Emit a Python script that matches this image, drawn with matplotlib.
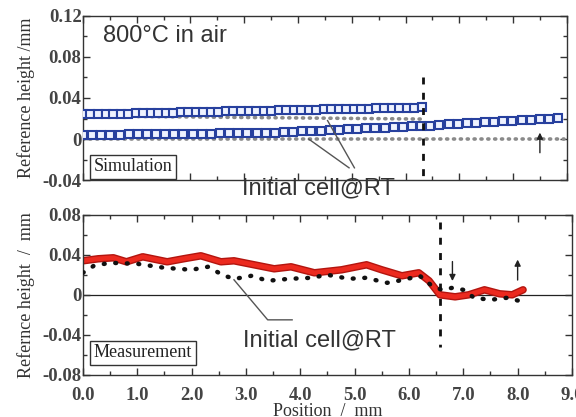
import numpy as np
import matplotlib
matplotlib.use("Agg")
import matplotlib.pyplot as plt
import matplotlib.patheffects as pe
from matplotlib.ticker import MultipleLocator, FuncFormatter

# ---- simulation (top panel) ----
sim_hot_x = [0.00, 0.14, 0.28, 0.42, 0.56, 0.70, 0.84, 0.98, 1.12, 1.26, 1.40, 1.54,
             1.68, 1.82, 1.96, 2.10, 2.24, 2.38, 2.52, 2.66, 2.80, 2.94, 3.08, 3.22,
             3.36, 3.50, 3.64, 3.78, 3.92, 4.06, 4.20, 4.34, 4.48, 4.62, 4.76, 4.90,
             5.04, 5.18, 5.32, 5.46, 5.60, 5.74, 5.88, 6.02, 6.16, 6.30]
sim_hot_y = [0.0240, 0.0242, 0.0243, 0.0245, 0.0246, 0.0248, 0.0249, 0.0251, 0.0252,
             0.0254, 0.0255, 0.0257, 0.0258, 0.0260, 0.0261, 0.0263, 0.0264, 0.0266,
             0.0267, 0.0269, 0.0270, 0.0272, 0.0273, 0.0275, 0.0276, 0.0278, 0.0279,
             0.0281, 0.0282, 0.0284, 0.0285, 0.0287, 0.0288, 0.0290, 0.0291, 0.0293,
             0.0294, 0.0296, 0.0297, 0.0299, 0.0300, 0.0302, 0.0303, 0.0305, 0.0306,
             0.0308]
sim_hot2_x = [0.00, 0.17, 0.34, 0.51, 0.68, 0.85, 1.02, 1.19, 1.36, 1.53, 1.70, 1.87,
              2.04, 2.21, 2.38, 2.55, 2.72, 2.89, 3.06, 3.23, 3.40, 3.57, 3.74, 3.91,
              4.08, 4.25, 4.42, 4.59, 4.76, 4.93, 5.10, 5.27, 5.44, 5.61, 5.78, 5.95,
              6.12, 6.29, 6.46, 6.63, 6.80, 6.97, 7.14, 7.31, 7.48, 7.65, 7.82, 7.99,
              8.16, 8.33, 8.50, 8.67, 8.84]
sim_hot2_y = [0.0040, 0.0041, 0.0042, 0.0043, 0.0044, 0.0045, 0.0046, 0.0047, 0.0048,
              0.0049, 0.0050, 0.0051, 0.0052, 0.0053, 0.0054, 0.0055, 0.0056, 0.0057,
              0.0058, 0.0059, 0.0060, 0.0061, 0.0065, 0.0069, 0.0074, 0.0078, 0.0082,
              0.0086, 0.0091, 0.0095, 0.0099, 0.0104, 0.0108, 0.0112, 0.0116, 0.0120,
              0.0124, 0.0127, 0.0132, 0.0137, 0.0142, 0.0147, 0.0152, 0.0157, 0.0163,
              0.0168, 0.0174, 0.0179, 0.0184, 0.0189, 0.0195, 0.0200, 0.0205]
sim_rt_upper_x = [0.0, 6.3]
sim_rt_upper_y = [0.0225, 0.0195]
sim_rt_lower_x = [0.0, 8.95]
sim_rt_lower_y = [0.0, 0.0]

# ---- measurement (bottom panel) ----
meas_hot_x = [0.0, 0.28, 0.56, 0.8, 1.1, 1.55, 1.85, 2.17, 2.54, 2.78, 3.15, 3.52,
              3.83, 4.26, 4.76, 5.22, 5.5, 5.87, 6.18, 6.37, 6.57, 6.85, 7.1, 7.39,
              7.67, 7.9, 8.1]
meas_hot_y = [0.034, 0.036, 0.037, 0.033, 0.038, 0.033, 0.036, 0.039, 0.033, 0.034,
              0.030, 0.026, 0.028, 0.022, 0.025, 0.030, 0.025, 0.019, 0.022, 0.014,
              0.000, -0.002, 0.000, 0.005, 0.001, 0.000, 0.005]
meas_rt_x = [0.0, 0.2, 0.5, 1.0, 1.5, 2.0, 2.3, 2.6, 2.8, 3.1, 3.4, 3.8, 4.2, 4.5,
             4.9, 5.2, 5.6, 5.9, 6.2, 6.4, 6.6, 6.8, 7.0, 7.2, 7.5, 7.8, 8.1]
meas_rt_y = [0.022, 0.029, 0.032, 0.031, 0.027, 0.025, 0.028, 0.019, 0.016, 0.019,
             0.014, 0.016, 0.017, 0.020, 0.016, 0.017, 0.012, 0.015, 0.019, 0.010,
             0.005, 0.007, 0.005, -0.003, -0.005, -0.003, -0.007]

top_yticks = [-0.04, 0, 0.04, 0.08, 0.12]
bot_yticks = [-0.08, -0.04, 0, 0.04, 0.08]
xticks = [0, 1, 2, 3, 4, 5, 6, 7, 8, 9]

serif = "Liberation Serif"
sans = "Liberation Sans"
tick_font = dict(family=serif, size=13.5, weight="bold")

fig = plt.figure(figsize=(5.76, 4.17), dpi=100)
ax1 = fig.add_axes([0.144, 0.568, 0.840, 0.394])
ax2 = fig.add_axes([0.144, 0.101, 0.849, 0.384])


def yfmt(v, pos):
    if abs(v) < 1e-9:
        return "0"
    return "%.2f" % v


for ax in (ax1, ax2):
    ax.set_xlim(0, 9)
    ax.xaxis.set_major_locator(MultipleLocator(1))
    ax.xaxis.set_minor_locator(MultipleLocator(0.5))
    ax.yaxis.set_minor_locator(MultipleLocator(0.02))
    ax.tick_params(which="both", direction="in", top=True, right=True, width=1,
                   color="#333", labelcolor="#444")
    ax.tick_params(which="major", length=5)
    ax.tick_params(which="minor", length=3)
    ax.yaxis.set_major_formatter(FuncFormatter(yfmt))
    for s in ax.spines.values():
        s.set_linewidth(1.0)
        s.set_color("#333")

# top panel
ax1.set_ylim(-0.04, 0.12)
ax1.set_yticks(top_yticks)
ax1.tick_params(labelbottom=False)
ax1.tick_params(axis="y", pad=1)
for lab in ax1.get_yticklabels():
    lab.set(**tick_font)

ax1.plot(sim_rt_lower_x, sim_rt_lower_y, color="#8a8a8a", lw=2.6,
         linestyle=(0, (0.3, 1.6)), dash_capstyle="round", zorder=2)
ax1.plot(sim_rt_upper_x, sim_rt_upper_y, color="#8a8a8a", lw=2.6,
         linestyle=(0, (0.3, 1.6)), dash_capstyle="round", zorder=2)
ax1.plot(sim_hot_x, sim_hot_y, linestyle="none", marker="s", ms=5.5, mew=1.5,
         mec="#27409e", mfc="#eef2ff", zorder=3)
ax1.plot(sim_hot2_x, sim_hot2_y, linestyle="none", marker="s", ms=5.5, mew=1.5,
         mec="#27409e", mfc="#eef2ff", zorder=3)
ax1.plot([6.32, 6.32], [0.06, -0.037], color="#111", lw=2,
         linestyle=(0, (2.5, 3)), zorder=4)
ax1.annotate("", xy=(8.5, 0.009), xytext=(8.5, -0.016),
             arrowprops=dict(arrowstyle="-|>", color="#222", lw=1, mutation_scale=9))
ax1.text(0.38, 0.1, "800°C in air", fontsize=17, family=sans, color="#333",
         va="center", ha="left")
ax1.text(0.2, -0.027, "Simulation", fontsize=13, family=serif, va="center",
         color="#222",
         bbox=dict(boxstyle="square,pad=0.2", fc="white", ec="#333", lw=1))
ax1.text(2.95, -0.048, "Initial cell@RT", fontsize=17, family=sans, color="#333",
         va="center", ha="left")
ax1.plot([5.05, 4.55], [-0.028, 0.018], color="#555", lw=1, zorder=5)
ax1.plot([4.95, 4.2], [-0.028, 0.0], color="#555", lw=1, zorder=5)
ax1.set_ylabel("Reference height /mm", family=serif, fontsize=13, labelpad=5,
               color="#333")

# bottom panel
ax2.set_ylim(-0.08, 0.08)
ax2.set_yticks(bot_yticks)
ax2.set_xticks(xticks)
ax2.set_xticklabels(["%.1f" % v for v in xticks])
ax2.tick_params(axis="y", pad=1)
ax2.tick_params(axis="x", pad=9)
for lab in ax2.get_yticklabels() + ax2.get_xticklabels():
    lab.set(**tick_font)
ax2.axhline(0, color="#222", lw=0.9, zorder=1)
ax2.plot(meas_hot_x, meas_hot_y, color="#ec2a1f", lw=3.4, solid_capstyle="round",
         path_effects=[pe.Stroke(linewidth=5.4, foreground="#b3150f"), pe.Normal()],
         zorder=2)
ax2.plot(meas_rt_x, meas_rt_y, color="#111", lw=3.2, linestyle=(0, (0.2, 2.4)),
         dash_capstyle="round", zorder=3)
ax2.plot([6.57, 6.57], [0.073, -0.052], color="#111", lw=2,
         linestyle=(0, (2.5, 3)), zorder=4)
ax2.annotate("", xy=(6.8, 0.011), xytext=(6.8, 0.036),
             arrowprops=dict(arrowstyle="-|>", color="#222", lw=1, mutation_scale=9))
ax2.annotate("", xy=(8.0, 0.038), xytext=(8.0, 0.012),
             arrowprops=dict(arrowstyle="-|>", color="#222", lw=1, mutation_scale=9))
ax2.text(0.2, -0.058, "Measurement", fontsize=13, family=serif, va="center",
         color="#222",
         bbox=dict(boxstyle="square,pad=0.2", fc="white", ec="#333", lw=1))
ax2.text(2.95, -0.046, "Initial cell@RT", fontsize=17, family=sans, color="#333",
         va="center", ha="left")
ax2.plot([2.78, 3.4, 3.85], [0.015, -0.025, -0.025], color="#555", lw=1, zorder=5)
ax2.set_ylabel("Refernce height  /  mm", family=serif, fontsize=13, labelpad=5,
               color="#333")
ax2.set_xlabel("Position  /  mm", family=serif, fontsize=13, labelpad=-1,
               color="#333")

fig.savefig("out.png", dpi=100)
